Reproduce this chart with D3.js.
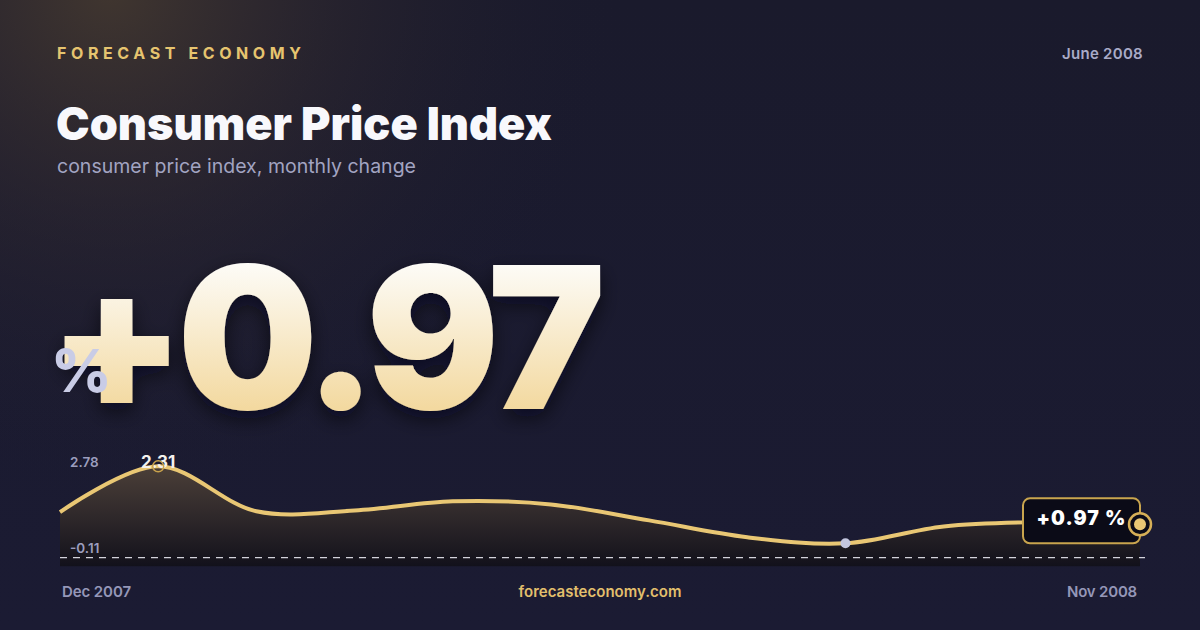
<!DOCTYPE html>
<html><head><meta charset="utf-8">
<script src="https://cdn.jsdelivr.net/npm/d3@7"></script>
<style>
html,body{margin:0;padding:0;background:#171729;overflow:hidden}
svg{display:block}
text{font-family:Inter,"Noto Sans",sans-serif}
</style>
</head><body>
<svg id="c" width="1200" height="630"></svg>
<script>
// ---- data ----
const months = ["Dec 2007","Jan 2008","Feb 2008","Mar 2008","Apr 2008","May 2008","Jun 2008","Jul 2008","Aug 2008","Sep 2008","Oct 2008","Nov 2008"];
const cpiChange = [1.25, 2.31, 1.27, 1.29, 1.50, 1.43, 1.06, 0.67, 0.53, 0.92, 1.02, 0.97];
const yDomain = [-0.11, 2.78];
const yTickLabels = ["2.78", "-0.11"];
const refLevel = 0.2;
const headline = "+0.97";
const brand = "FORECAST ECONOMY";
const dateLabel = "June 2008";
const title = "Consumer Price Index";
const subtitle = "consumer price index, monthly change";
const site = "forecasteconomy.com";

const svg = d3.select("#c");
const W = 1200, H = 630;
const defs = svg.append("defs");

// fit a text's advance width by adjusting letter-spacing
function fit(sel, target) {
  const n = sel.text().length;
  const cur = sel.node().getComputedTextLength();
  const ls = parseFloat(sel.attr("letter-spacing") || 0);
  sel.attr("letter-spacing", ls + (target - cur) / n);
  return sel;
}

// background
const bg = defs.append("linearGradient").attr("id","bg").attr("x1",0).attr("y1",0).attr("x2",0).attr("y2",1);
bg.append("stop").attr("offset","0%").attr("stop-color","#1a1a2c");
bg.append("stop").attr("offset","100%").attr("stop-color","#1b1b33");
const glow = defs.append("radialGradient").attr("id","glow")
  .attr("gradientUnits","userSpaceOnUse").attr("cx",110).attr("cy",-10).attr("r",520);
glow.append("stop").attr("offset","0%").attr("stop-color","#4a3d30").attr("stop-opacity",0.8);
glow.append("stop").attr("offset","45%").attr("stop-color","#3a3030").attr("stop-opacity",0.35);
glow.append("stop").attr("offset","100%").attr("stop-color","#1a1a2c").attr("stop-opacity",0);
svg.append("rect").attr("width",W).attr("height",H).attr("fill","url(#bg)");
svg.append("rect").attr("width",W).attr("height",H).attr("fill","url(#glow)");

// header
svg.append("text").attr("x",57).attr("y",59).text(brand)
  .attr("fill","#e6c46f").attr("font-size",16).attr("font-weight",700).attr("letter-spacing",4.6);
fit(svg.append("text").attr("x",1143).attr("y",59).attr("text-anchor","end").text(dateLabel)
  .attr("fill","#a9abc7").attr("font-size",15).attr("font-weight",600), 81);
fit(svg.append("text").attr("x",56).attr("y",140).text(title)
  .attr("fill","#f8f8fc").attr("font-size",45).attr("font-weight",900), 496);
fit(svg.append("text").attr("x",57).attr("y",173).text(subtitle)
  .attr("fill","#a2a4c2").attr("font-size",19.5).attr("font-weight",400), 359);

// big number
const numGrad = defs.append("linearGradient").attr("id","numGrad")
  .attr("gradientUnits","userSpaceOnUse").attr("x1",0).attr("y1",262).attr("x2",0).attr("y2",408);
numGrad.append("stop").attr("offset","0%").attr("stop-color","#fdfcf8");
numGrad.append("stop").attr("offset","100%").attr("stop-color","#f3d9a0");
const sh = defs.append("filter").attr("id","sh").attr("x","-20%").attr("y","-20%").attr("width","140%").attr("height","150%");
sh.append("feDropShadow").attr("dx",0).attr("dy",8).attr("stdDeviation",10)
  .attr("flood-color","#05050c").attr("flood-opacity",0.6);
svg.append("text").attr("x",48).attr("y",409).text(headline)
  .attr("fill","url(#numGrad)").attr("font-size",198).attr("font-weight",900)
  .attr("letter-spacing",-8).attr("filter","url(#sh)");
svg.append("text").attr("x",51).attr("y",392).text("%")
  .attr("fill","#c9cce6").attr("font-size",59).attr("font-weight",800);

// ---- chart ----
const x = d3.scaleLinear().domain([0, cpiChange.length - 1]).range([60, 1140]);
const y = d3.scaleLinear().domain(yDomain).range([571, 446]);

const areaGrad = defs.append("linearGradient").attr("id","areaGrad")
  .attr("gradientUnits","userSpaceOnUse").attr("x1",0).attr("y1",y(2.31)).attr("x2",0).attr("y2",y(0));
areaGrad.append("stop").attr("offset","0%").attr("stop-color","#4b3f38");
areaGrad.append("stop").attr("offset","55%").attr("stop-color","#2c2629");
areaGrad.append("stop").attr("offset","100%").attr("stop-color","#12111b");

const curve = d3.curveCatmullRom.alpha(0.5);
const area = d3.area().x((d,i)=>x(i)).y0(y(0)).y1(d=>y(d)).curve(curve);
const line = d3.line().x((d,i)=>x(i)).y(d=>y(d)).curve(curve);

svg.append("path").datum(cpiChange).attr("d",area).attr("fill","url(#areaGrad)");

svg.append("line").attr("x1",x(0)).attr("x2",x(cpiChange.length-1)+5)
  .attr("y1",y(refLevel)).attr("y2",y(refLevel))
  .attr("stroke","#e8e8f0").attr("stroke-width",1.3).attr("stroke-dasharray","7,6").attr("opacity",0.9);

svg.append("path").datum(cpiChange).attr("d",line).attr("fill","none")
  .attr("stroke","#e9c774").attr("stroke-width",4).attr("stroke-linejoin","round");

// y range labels
svg.append("text").attr("x",70).attr("y",y(yDomain[1])+21).text(yTickLabels[0])
  .attr("fill","#9c9ebe").attr("font-size",13.5).attr("font-weight",600);
svg.append("text").attr("x",70).attr("y",y(yDomain[0])-18).text(yTickLabels[1])
  .attr("fill","#9c9ebe").attr("font-size",13.5).attr("font-weight",600);

// peak
const iMax = d3.maxIndex(cpiChange);
svg.append("text").attr("x",x(iMax)).attr("y",y(cpiChange[iMax])+2).attr("text-anchor","middle")
  .text(cpiChange[iMax].toFixed(2)).attr("fill","#f4f2ee").attr("font-size",17).attr("font-weight",700);
svg.append("circle").attr("cx",x(iMax)).attr("cy",y(cpiChange[iMax])).attr("r",5.5)
  .attr("fill","none").attr("stroke","#c9a24c").attr("stroke-width",1.5);

// min
const iMin = d3.minIndex(cpiChange);
svg.append("circle").attr("cx",x(iMin)).attr("cy",y(cpiChange[iMin])).attr("r",5)
  .attr("fill","#c3c6de");

// last value label
const iLast = cpiChange.length - 1;
const lx = x(iLast), ly = y(cpiChange[iLast]);
svg.append("rect").attr("x",lx-117).attr("y",ly-26).attr("width",117).attr("height",45).attr("rx",7)
  .attr("fill","#0b0b17").attr("stroke","#c9a54e").attr("stroke-width",2);
fit(svg.append("text").attr("x",lx-58.5).attr("y",ly+1).attr("text-anchor","middle")
  .text("+" + cpiChange[iLast].toFixed(2) + " %").attr("fill","#ffffff").attr("font-size",19.5).attr("font-weight",900), 90);
svg.append("circle").attr("cx",lx).attr("cy",ly).attr("r",11)
  .attr("fill","#0b0b17").attr("stroke","#d6af57").attr("stroke-width",2.5);
svg.append("circle").attr("cx",lx).attr("cy",ly).attr("r",6).attr("fill","#e9c774");

// footer
fit(svg.append("text").attr("x",62).attr("y",597).text(months[0])
  .attr("fill","#9597b8").attr("font-size",15).attr("font-weight",600), 69);
fit(svg.append("text").attr("x",1137).attr("y",597).attr("text-anchor","end").text(months[iLast])
  .attr("fill","#9597b8").attr("font-size",15).attr("font-weight",600), 70);
fit(svg.append("text").attr("x",600).attr("y",597).attr("text-anchor","middle").text(site)
  .attr("fill","#e2bf6c").attr("font-size",15).attr("font-weight",600), 163);
</script>
</body></html>
